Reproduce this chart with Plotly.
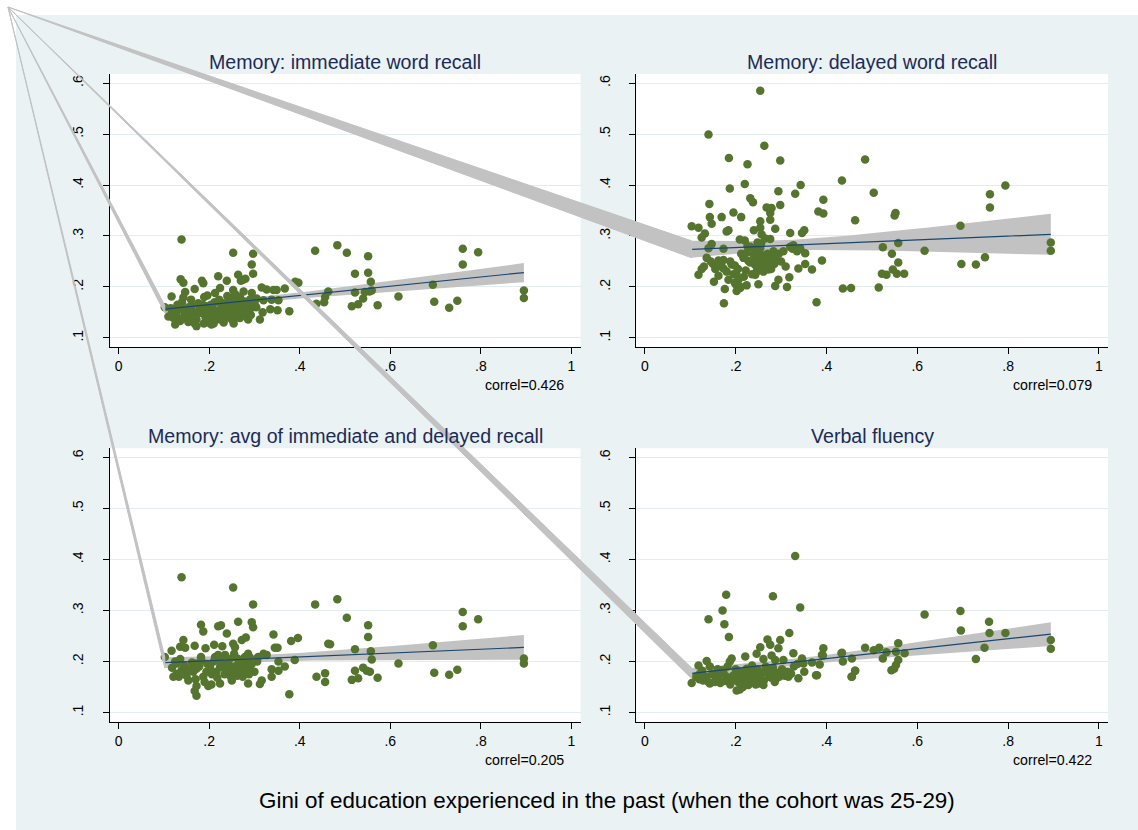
import numpy as np
import plotly.graph_objects as go

W, H = 1138, 830

panel_titles = ["Memory: immediate word recall", "Memory: delayed word recall",
                "Memory: avg of immediate and delayed recall", "Verbal fluency"]
correl_values = [0.426, 0.079, 0.205, 0.422]
x_title = "Gini of education experienced in the past (when the cohort was 25-29)"
x_tickvals = [0, 0.2, 0.4, 0.6, 0.8, 1]
x_ticktext = ["0", ".2", ".4", ".6", ".8", "1"]
y_tickvals = [0.1, 0.2, 0.3, 0.4, 0.5, 0.6]
y_ticktext = [".1", ".2", ".3", ".4", ".5", ".6"]

pts_immediate = [
    (0.139,0.293),(0.253,0.267),(0.297,0.265),(0.294,0.244),(0.297,0.226),(0.264,0.224),(0.275,0.214),
    (0.270,0.212),(0.280,0.216),(0.220,0.221),(0.137,0.215),(0.143,0.208),(0.184,0.212),(0.187,0.207),
    (0.239,0.212),(0.168,0.196),(0.147,0.190),(0.117,0.181),(0.143,0.179),(0.224,0.198),(0.253,0.194),
    (0.213,0.188),(0.189,0.180),(0.196,0.183),(0.294,0.188),(0.276,0.191),(0.316,0.199),(0.327,0.195),
    (0.342,0.194),(0.349,0.194),(0.367,0.197),(0.390,0.210),(0.397,0.208),(0.305,0.177),(0.320,0.174),
    (0.338,0.175),(0.353,0.174),(0.335,0.156),(0.351,0.154),(0.377,0.152),(0.312,0.136),(0.437,0.167),
    (0.463,0.191),(0.434,0.271),(0.456,0.180),(0.454,0.170),
    (0.102,0.160),(0.110,0.142),(0.121,0.139),(0.125,0.126),(0.132,0.156),(0.139,0.159),(0.150,0.152),
    (0.158,0.139),(0.172,0.136),(0.172,0.123),(0.183,0.149),(0.194,0.162),(0.202,0.146),(0.202,0.133),
    (0.205,0.126),(0.216,0.152),(0.224,0.136),(0.231,0.149),(0.235,0.162),(0.242,0.172),(0.246,0.152),
    (0.250,0.136),(0.257,0.146),(0.261,0.159),(0.264,0.172),(0.268,0.139),(0.275,0.156),(0.279,0.165),
    (0.283,0.146),(0.286,0.136),(0.290,0.175),(0.253,0.165),(0.228,0.169),(0.198,0.130),(0.180,0.159),
    (0.161,0.163),(0.154,0.131),(0.136,0.133),(0.143,0.139),(0.125,0.156),
    (0.118,0.150),(0.128,0.145),(0.146,0.148),(0.155,0.160),(0.165,0.150),(0.176,0.168),(0.186,0.165),
    (0.192,0.140),(0.208,0.158),(0.212,0.170),(0.220,0.145),(0.226,0.158),(0.238,0.140),(0.244,0.160),
    (0.248,0.178),(0.252,0.150),(0.256,0.170),(0.260,0.140),(0.262,0.150),(0.266,0.162),(0.270,0.150),
    (0.272,0.168),(0.278,0.145),(0.282,0.158),(0.288,0.150),(0.296,0.160),(0.300,0.168),(0.232,0.130),
    (0.210,0.128),(0.188,0.128),(0.168,0.128),(0.240,0.182),(0.258,0.185),(0.268,0.180),
    (0.115,0.158),(0.130,0.165),(0.140,0.170),(0.152,0.142),(0.160,0.175),(0.170,0.145),(0.178,0.155),
    (0.196,0.150),(0.204,0.165),(0.214,0.138),(0.222,0.175),(0.234,0.155),(0.242,0.145),(0.254,0.128),
    (0.262,0.180),(0.276,0.172),(0.284,0.168),(0.292,0.145),(0.304,0.160),(0.318,0.150),
    (0.483,0.282),(0.504,0.267),(0.551,0.260),(0.522,0.226),(0.551,0.228),(0.557,0.210),(0.522,0.189),
    (0.544,0.190),(0.554,0.191),(0.559,0.193),(0.540,0.177),(0.515,0.162),(0.529,0.166),(0.572,0.164),
    (0.618,0.181),(0.694,0.204),(0.697,0.171),(0.730,0.159),(0.748,0.173),(0.760,0.275),(0.760,0.244),
    (0.794,0.268),(0.895,0.193),(0.895,0.178),
]

pts_delayed = [
    (0.254,0.585),(0.140,0.499),(0.263,0.477),(0.185,0.453),(0.226,0.441),(0.298,0.448),(0.187,0.393),
    (0.220,0.402),(0.343,0.400),(0.294,0.388),(0.331,0.383),(0.232,0.374),(0.238,0.366),(0.142,0.363),
    (0.268,0.356),(0.279,0.355),(0.298,0.361),(0.393,0.371),(0.434,0.409),(0.382,0.348),(0.393,0.344),
    (0.463,0.331),(0.143,0.337),(0.147,0.324),(0.169,0.337),(0.195,0.346),(0.212,0.337),(0.254,0.329),
    (0.276,0.332),(0.276,0.345),(0.103,0.319),(0.118,0.316),(0.132,0.305),(0.125,0.297),(0.180,0.309),
    (0.184,0.311),(0.240,0.311),(0.254,0.316),(0.257,0.303),(0.287,0.314),(0.320,0.306),(0.346,0.306),
    (0.351,0.311),(0.147,0.284),(0.140,0.276),(0.173,0.275),(0.209,0.293),(0.220,0.291),(0.232,0.279),
    (0.248,0.287),(0.276,0.294),(0.254,0.276),(0.283,0.270),(0.305,0.270),(0.320,0.279),(0.327,0.282),
    (0.342,0.276),(0.353,0.266),(0.390,0.252),(0.368,0.234),(0.338,0.236),(0.353,0.245),(0.136,0.257),
    (0.150,0.245),(0.162,0.252),(0.173,0.253),(0.125,0.235),(0.118,0.224),(0.162,0.222),(0.169,0.240),
    (0.173,0.236),(0.191,0.244),(0.198,0.242),(0.217,0.257),(0.228,0.251),(0.224,0.267),(0.239,0.263),
    (0.243,0.243),(0.246,0.230),(0.254,0.234),(0.261,0.230),(0.272,0.234),(0.243,0.224),(0.254,0.251),
    (0.261,0.254),(0.268,0.261),(0.287,0.252),(0.202,0.224),(0.206,0.214),(0.198,0.208),(0.209,0.201),
    (0.224,0.203),(0.184,0.214),(0.176,0.196),(0.202,0.192),(0.152,0.210),(0.250,0.205),(0.287,0.202),
    (0.294,0.214),(0.313,0.200),(0.318,0.219),(0.174,0.168),(0.378,0.170),(0.436,0.197),(0.454,0.198),
    (0.485,0.450),(0.504,0.385),(0.552,0.345),(0.550,0.340),(0.695,0.320),(0.760,0.382),(0.760,0.356),
    (0.794,0.399),(0.524,0.278),(0.558,0.286),(0.544,0.265),(0.616,0.271),(0.558,0.248),(0.522,0.226),
    (0.532,0.224),(0.546,0.234),(0.555,0.226),(0.571,0.226),(0.515,0.199),(0.697,0.245),(0.729,0.244),
    (0.749,0.258),(0.894,0.287),(0.894,0.271),
    (0.130,0.240),(0.145,0.250),(0.155,0.235),(0.165,0.245),(0.180,0.230),(0.188,0.250),(0.195,0.225),
    (0.205,0.235),(0.212,0.265),(0.218,0.220),(0.222,0.232),(0.226,0.280),(0.232,0.248),(0.236,0.225),
    (0.240,0.275),(0.245,0.255),(0.250,0.265),(0.252,0.240),(0.256,0.285),(0.258,0.262),(0.262,0.240),
    (0.265,0.295),(0.268,0.245),(0.270,0.265),(0.275,0.255),(0.278,0.235),(0.282,0.260),(0.285,0.245),
    (0.290,0.255),(0.295,0.265),(0.300,0.250),(0.310,0.240),(0.325,0.275),(0.335,0.270),(0.210,0.198),
    (0.200,0.205),
]

pts_average = [
    (0.139,0.365),(0.253,0.345),(0.297,0.312),(0.434,0.312),(0.182,0.272),(0.187,0.259),(0.220,0.269),
    (0.226,0.271),(0.239,0.255),(0.264,0.278),(0.294,0.277),(0.297,0.267),(0.143,0.242),(0.136,0.229),
    (0.147,0.227),(0.117,0.221),(0.102,0.209),(0.168,0.231),(0.192,0.226),(0.211,0.233),(0.229,0.230),
    (0.253,0.235),(0.257,0.228),(0.272,0.242),(0.281,0.247),(0.342,0.253),(0.345,0.227),(0.351,0.227),
    (0.381,0.240),(0.396,0.246),(0.463,0.235),(0.182,0.209),(0.136,0.205),(0.128,0.196),(0.213,0.209),
    (0.220,0.213),(0.235,0.213),(0.257,0.209),(0.264,0.205),(0.279,0.209),(0.286,0.215),(0.290,0.208),
    (0.308,0.209),(0.320,0.215),(0.327,0.213),(0.353,0.200),(0.389,0.203),(0.367,0.190),(0.338,0.185),
    (0.353,0.182),(0.338,0.170),(0.316,0.163),(0.312,0.156),(0.286,0.157),(0.250,0.163),(0.224,0.157),
    (0.198,0.152),(0.205,0.155),(0.172,0.152),(0.168,0.142),(0.172,0.133),(0.154,0.163),(0.121,0.170),
    (0.128,0.176),(0.139,0.183),(0.147,0.180),(0.165,0.180),(0.172,0.186),(0.187,0.170),(0.194,0.180),
    (0.202,0.189),(0.216,0.180),(0.224,0.189),(0.231,0.196),(0.239,0.183),(0.246,0.189),(0.253,0.180),
    (0.261,0.186),(0.268,0.193),(0.275,0.180),(0.283,0.189),(0.290,0.183),(0.377,0.136),(0.437,0.170),
    (0.456,0.177),(0.456,0.160),(0.172,0.196),(0.183,0.202),
    (0.118,0.188),(0.125,0.200),(0.133,0.170),(0.145,0.192),(0.150,0.172),(0.158,0.185),(0.162,0.198),
    (0.170,0.165),(0.178,0.190),(0.190,0.160),(0.196,0.195),(0.206,0.175),(0.210,0.200),(0.218,0.168),
    (0.226,0.200),(0.234,0.175),(0.242,0.195),(0.248,0.170),(0.256,0.190),(0.262,0.172),(0.266,0.200),
    (0.270,0.185),(0.274,0.170),(0.280,0.200),(0.288,0.175),(0.294,0.195),(0.300,0.180),(0.306,0.200),
    (0.255,0.215),(0.245,0.205),
    (0.483,0.322),(0.504,0.286),(0.551,0.271),(0.551,0.248),(0.467,0.234),(0.522,0.224),(0.557,0.220),
    (0.559,0.204),(0.540,0.188),(0.548,0.182),(0.555,0.180),(0.522,0.182),(0.515,0.164),(0.529,0.167),
    (0.572,0.168),(0.618,0.196),(0.694,0.232),(0.697,0.178),(0.730,0.174),(0.748,0.184),(0.760,0.297),
    (0.760,0.269),(0.794,0.283),(0.895,0.206),(0.895,0.196),
]

pts_fluency = [
    (0.331,0.407),(0.179,0.331),(0.282,0.328),(0.171,0.300),(0.342,0.306),(0.140,0.283),(0.175,0.273),
    (0.185,0.248),(0.318,0.256),(0.270,0.243),(0.276,0.233),(0.298,0.242),(0.254,0.228),(0.294,0.226),
    (0.393,0.226),(0.390,0.213),(0.434,0.217),(0.436,0.200),(0.456,0.206),(0.327,0.216),(0.221,0.210),
    (0.191,0.206),(0.187,0.200),(0.136,0.201),(0.143,0.190),(0.118,0.192),(0.103,0.158),(0.279,0.212),
    (0.287,0.203),(0.246,0.215),(0.261,0.205),(0.305,0.203),(0.346,0.206),(0.349,0.196),(0.368,0.198),
    (0.385,0.194),(0.351,0.180),(0.377,0.173),(0.316,0.170),(0.338,0.167),(0.463,0.182),(0.456,0.170),
    (0.202,0.143),(0.209,0.145),(0.121,0.176),(0.128,0.163),(0.143,0.157),(0.154,0.160),(0.169,0.183),
    (0.180,0.170),(0.191,0.164),(0.198,0.174),(0.209,0.180),(0.217,0.161),(0.224,0.186),(0.231,0.173),
    (0.239,0.160),(0.246,0.177),(0.254,0.167),(0.261,0.154),(0.268,0.183),(0.276,0.170),(0.283,0.180),
    (0.290,0.167),(0.228,0.154),(0.250,0.157),(0.213,0.167),(0.235,0.183),(0.162,0.170),(0.173,0.178),
    (0.112,0.170),(0.120,0.165),(0.126,0.182),(0.134,0.170),(0.140,0.160),(0.148,0.175),(0.156,0.168),
    (0.160,0.185),(0.166,0.158),(0.176,0.162),(0.182,0.190),(0.188,0.155),(0.194,0.172),(0.200,0.185),
    (0.205,0.160),(0.212,0.176),(0.216,0.150),(0.220,0.168),(0.226,0.178),(0.232,0.160),(0.236,0.192),
    (0.240,0.172),(0.244,0.155),(0.248,0.185),(0.252,0.170),(0.258,0.178),(0.262,0.163),(0.266,0.190),
    (0.272,0.175),(0.278,0.168),(0.282,0.188),(0.286,0.160),(0.292,0.178),(0.296,0.170),(0.302,0.185),
    (0.308,0.172),(0.314,0.180),(0.322,0.176),(0.328,0.190),(0.336,0.195),
    (0.616,0.292),(0.695,0.299),(0.696,0.261),(0.758,0.278),(0.759,0.256),(0.794,0.256),(0.748,0.227),
    (0.729,0.205),(0.894,0.242),(0.894,0.225),(0.485,0.227),(0.504,0.222),(0.516,0.227),(0.524,0.206),
    (0.532,0.218),(0.558,0.236),(0.553,0.219),(0.572,0.216),(0.558,0.203),(0.553,0.193),(0.549,0.186),
    (0.543,0.183),(0.463,0.182),(0.455,0.170),(0.433,0.216),(0.392,0.212),(0.379,0.173),
]

panels_data = [pts_immediate, pts_delayed, pts_average, pts_fluency]

# ---------------- layout geometry (pixels) ----------------
# (left, right, top, bottom) of each white plot region
boxes = [(110, 580.5, 74, 347), (636.3, 1108, 74, 347),
         (110, 580.5, 448.3, 721.7), (636.3, 1108, 448.3, 721.7)]
X_RANGE = [-0.019, 1.020]
Y_RANGE = [0.082, 0.618]
APEX = (8, 7)

BG = "#EAF2F3"
GRID = "#E3EDF0"
GREEN = "#55752F"
NAVY = "#1A476F"
BAND = "#C2C2C2"
TITLE_C = "#1C2B56"
FONT = "Liberation Sans, Arial, sans-serif"
T_CRIT = 1.975


def to_px(box, x, y):
    l, r, t, b = box
    px = l + (x - X_RANGE[0]) / (X_RANGE[1] - X_RANGE[0]) * (r - l)
    py = b - (y - Y_RANGE[0]) / (Y_RANGE[1] - Y_RANGE[0]) * (b - t)
    return px, py


fig = go.Figure()
layout_axes = {}
shapes = []
annotations = []

# outer bluish background with white strip top/left
shapes.append(dict(type="rect", xref="paper", yref="paper", x0=16 / W, x1=1, y0=0, y1=1 - 15 / H,
                   fillcolor=BG, line=dict(width=0), layer="below"))

wedges = []
for i, (pts, box) in enumerate(zip(panels_data, boxes)):
    k = "" if i == 0 else str(i + 1)
    xs = np.array([p[0] for p in pts])
    ys = np.array([p[1] for p in pts])
    n = len(xs)
    slope, icpt = np.polyfit(xs, ys, 1)
    resid = ys - (icpt + slope * xs)
    s = np.sqrt(np.sum(resid ** 2) / (n - 2))
    xbar = xs.mean()
    sxx = np.sum((xs - xbar) ** 2)
    grid = np.linspace(xs.min(), xs.max(), 100)
    fit = icpt + slope * grid
    se = s * np.sqrt(1.0 / n + (grid - xbar) ** 2 / sxx)
    up = fit + T_CRIT * se
    lo = fit - T_CRIT * se

    xa, ya = "x" + k, "y" + k
    fig.add_trace(go.Scatter(x=np.concatenate([grid, grid[::-1]]), y=np.concatenate([up, lo[::-1]]),
                             fill="toself", fillcolor=BAND, line=dict(width=0), mode="lines",
                             hoverinfo="skip", showlegend=False, xaxis=xa, yaxis=ya))
    fig.add_trace(go.Scatter(x=xs, y=ys, mode="markers",
                             marker=dict(color=GREEN, size=8.5, line=dict(width=0)),
                             showlegend=False, xaxis=xa, yaxis=ya))
    fig.add_trace(go.Scatter(x=grid, y=fit, mode="lines", line=dict(color=NAVY, width=1.2),
                             showlegend=False, xaxis=xa, yaxis=ya))

    # rendering artefact of the confidence band (spike to the page corner)
    pu = to_px(box, grid[0], up[0])
    pl = to_px(box, grid[0], lo[0])
    wedges.append(([APEX[0], pu[0], pl[0], APEX[0]], [APEX[1], pu[1], pl[1], APEX[1]]))

    l, r, t, b = box
    shapes.append(dict(type="rect", xref="paper", yref="paper", x0=l / W, x1=r / W,
                       y0=1 - b / H, y1=1 - t / H, fillcolor="white", line=dict(width=0), layer="below"))

    layout_axes["xaxis" + k] = dict(domain=[l / W, r / W], range=X_RANGE, anchor=ya,
                                    tickvals=x_tickvals, ticktext=x_ticktext, ticks="outside",
                                    ticklen=6, tickcolor="black", showline=True, linecolor="black",
                                    linewidth=1, showgrid=False, zeroline=False,
                                    tickfont=dict(size=14, color="black", family=FONT))
    layout_axes["yaxis" + k] = dict(domain=[1 - b / H, 1 - t / H], range=Y_RANGE, anchor=xa,
                                    tickvals=y_tickvals, ticktext=y_ticktext, ticks="outside",
                                    ticklen=6, tickcolor="black", tickangle=-90, showline=True,
                                    linecolor="black", linewidth=1, showgrid=True, gridcolor=GRID,
                                    gridwidth=1, zeroline=False, ticklabelstandoff=14,
                                    tickfont=dict(size=14, color="black", family=FONT))

    title_y = t - 12.5
    annotations.append(dict(text=panel_titles[i], xref="paper", yref="paper",
                            x=(l + r) / 2 / W, y=1 - title_y / H, xanchor="center", yanchor="middle",
                            showarrow=False, font=dict(size=19.6, color=TITLE_C, family=FONT)))
    annotations.append(dict(text="correl=%.3f" % correl_values[i], xref="paper", yref="paper",
                            x=(r - 14.5) / W, y=1 - (b + 38) / H, xanchor="right", yanchor="middle",
                            showarrow=False, font=dict(size=14.2, color="black", family=FONT)))

for wx, wy in wedges:
    fig.add_trace(go.Scatter(x=wx, y=wy, fill="toself", fillcolor=BAND, mode="lines",
                             line=dict(color=BAND, width=1), hoverinfo="skip", showlegend=False,
                             xaxis="x5", yaxis="y5"))
layout_axes["xaxis5"] = dict(domain=[0, 1], range=[0, W], visible=False, anchor="y5")
layout_axes["yaxis5"] = dict(domain=[0, 1], range=[H, 0], visible=False, anchor="x5")

annotations.append(dict(text=x_title, xref="paper", yref="paper", x=606.5 / W, y=1 - 800 / H,
                        xanchor="center", yanchor="middle", showarrow=False,
                        font=dict(size=22.4, color="black", family=FONT)))

fig.update_layout(width=W, height=H, margin=dict(l=0, r=0, t=0, b=0),
                  paper_bgcolor="white", plot_bgcolor="rgba(0,0,0,0)",
                  shapes=shapes, annotations=annotations, showlegend=False,
                  font=dict(family=FONT), **layout_axes)

fig.write_html("out.html", config={"displayModeBar": False},
               post_script="document.body.style.margin='0';document.body.style.overflow='hidden';")
